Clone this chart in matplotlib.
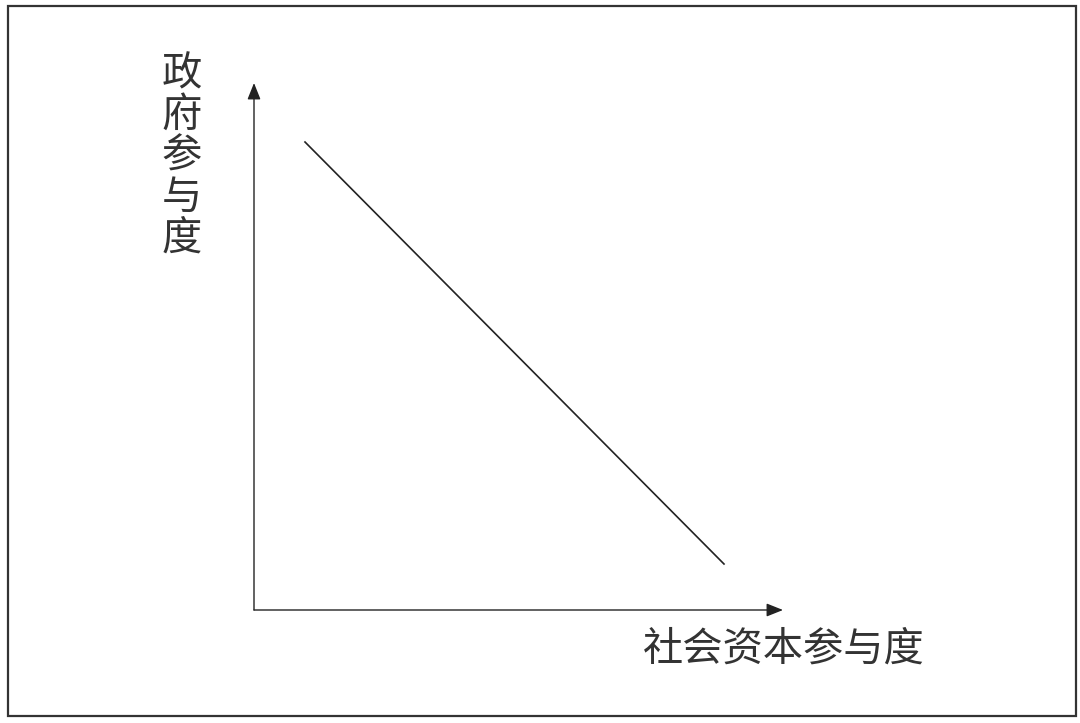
import matplotlib.pyplot as plt
from matplotlib.patches import Rectangle

plt.rcParams['font.family'] = ['Noto Sans CJK SC', 'DejaVu Sans']

# diagram in pixel-like coordinates (y grows downward)
origin = (254, 610)
x_axis_end = 783
y_axis_end = 83
line_x = [305, 724]
line_y = [142, 564]
x_label = "社会资本参与度"
y_label = "政府参与度"

fig = plt.figure(figsize=(10.8, 7.23), dpi=100)
ax = fig.add_axes([0, 0, 1, 1])
ax.set_xlim(0, 1080)
ax.set_ylim(723, 0)
ax.axis("off")

ax.add_patch(Rectangle((8, 6), 1068, 710, fill=False, edgecolor="#333333", lw=1.6))

arrow = dict(arrowstyle="-|>,head_length=1.0,head_width=0.4", color="#222222",
             lw=1.0, shrinkA=0, shrinkB=0)
ax.annotate("", xy=(x_axis_end, origin[1]), xytext=origin, arrowprops=arrow)
ax.annotate("", xy=(origin[0], y_axis_end), xytext=origin, arrowprops=arrow)

ax.plot(line_x, line_y, color="#222222", lw=1.2)

ax.text(643, 649, x_label, fontsize=29, fontweight="light", color="#333333",
        ha="left", va="center")
ax.text(182, 156, "\n".join(y_label), fontsize=29, fontweight="light", color="#333333",
        ha="center", va="center", linespacing=1.0)

fig.savefig("out.png", dpi=100)
